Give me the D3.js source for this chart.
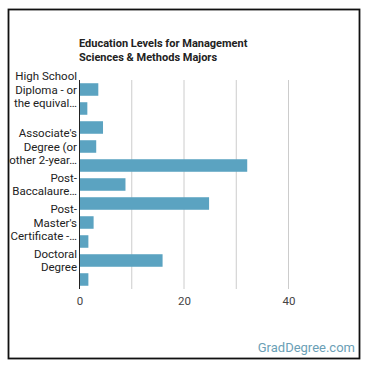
<!DOCTYPE html>
<html>
<head>
<meta charset="utf-8">
<script src="https://cdn.jsdelivr.net/npm/d3@7"></script>
<style>
  body { margin: 0; background: #fff; }
  text { font-family: Roboto, "Noto Sans", sans-serif; }
</style>
</head>
<body>
<div id="vis"></div>
<script>
const FRAME_WIDTH = 370;
const FRAME_HEIGHT = 370;
const MARGINS = {left: 79.5, right: 81.5, top: 80, bottom: 81};

// categories in bar order (top to bottom)
const categories = [
  "High School Diploma - or the equivalent",
  "Post-Secondary Certificate",
  "Some College Courses",
  "Associate's Degree (or other 2-year degree)",
  "Bachelor's Degree",
  "Post-Baccalaureate Certificate",
  "Master's Degree",
  "Post-Master's Certificate",
  "First Professional Degree",
  "Doctoral Degree",
  "Post-Doctoral Training"
];
// percent of majors
const values = [3.6, 1.5, 4.5, 3.2, 32.1, 8.8, 24.8, 2.7, 1.7, 15.9, 1.7];
// the chart only shows some of the (wrapped, truncated) labels
const shownLabels = [
  ["High School", "Diploma - or", "the equival\u2026"],
  null,
  null,
  ["Associate's", "Degree (or", "other 2-year\u2026"],
  null,
  ["Post-", "Baccalaure\u2026"],
  null,
  ["Post-", "Master's", "Certificate -\u2026"],
  null,
  ["Doctoral", "Degree"],
  null
];
const xTicks = [0, 20, 40];
const xGrid = [10, 20, 30, 40];

const svg = d3.select("#vis")
  .append("svg")
    .attr("width", FRAME_WIDTH)
    .attr("height", FRAME_HEIGHT);

// outer frame
svg.append("rect")
    .attr("x", 8.5)
    .attr("y", 9.5)
    .attr("width", 351)
    .attr("height", 349)
    .attr("fill", "#fff")
    .attr("stroke", "#111")
    .attr("stroke-width", 1.8);

const x = d3.scaleLinear()
  .domain([0, 40])
  .range([MARGINS.left, FRAME_WIDTH - MARGINS.right]);

const y = d3.scaleBand()
  .domain(categories)
  .range([MARGINS.top, FRAME_HEIGHT - MARGINS.bottom])
  .paddingInner(0.34)
  .paddingOuter(0.17);

// title
svg.append("text")
    .attr("x", 79)
    .attr("y", 47)
    .attr("font-size", 11)
    .attr("font-weight", "bold")
    .attr("fill", "#222")
  .selectAll("tspan")
  .data(["Education Levels for Management", "Sciences & Methods Majors"])
  .enter().append("tspan")
    .attr("x", 79)
    .attr("dy", (d, i) => i ? 13.5 : 0)
    .text(d => d);

// grid lines
svg.append("g")
  .selectAll("line")
  .data(xGrid)
  .enter().append("line")
    .attr("x1", d => x(d))
    .attr("x2", d => x(d))
    .attr("y1", MARGINS.top)
    .attr("y2", FRAME_HEIGHT - MARGINS.bottom)
    .attr("stroke", "#cccccc")
    .attr("stroke-width", 1);

// bars
svg.append("g")
  .selectAll("rect")
  .data(values)
  .enter().append("rect")
    .attr("x", x(0))
    .attr("y", (d, i) => y(categories[i]))
    .attr("width", d => x(d) - x(0))
    .attr("height", y.bandwidth())
    .attr("fill", "#5ba3c1");

// baseline
svg.append("line")
    .attr("x1", x(0))
    .attr("x2", x(0))
    .attr("y1", MARGINS.top)
    .attr("y2", FRAME_HEIGHT - MARGINS.bottom)
    .attr("stroke", "#222")
    .attr("stroke-width", 1);

// x axis labels
const xAxis = svg.append("g")
    .attr("transform", `translate(0,${FRAME_HEIGHT - MARGINS.bottom})`)
    .call(d3.axisBottom(x).tickValues(xTicks).tickSize(0).tickPadding(8).tickFormat(d3.format("d")));
xAxis.select(".domain").remove();
xAxis.selectAll("text")
    .attr("font-size", 11.5)
    .attr("font-family", "Roboto, sans-serif")
    .attr("fill", "#444");

// category labels
const labels = svg.append("g")
  .selectAll("text")
  .data(shownLabels.map((l, i) => ({lines: l, cat: categories[i]})).filter(d => d.lines))
  .enter().append("text")
    .attr("text-anchor", "end")
    .attr("font-size", 11.5)
    .attr("fill", "#222");

labels.selectAll("tspan")
  .data(d => d.lines.map((t, j) => ({t: t, j: j, n: d.lines.length, c: d.cat})))
  .enter().append("tspan")
    .attr("x", 77)
    .attr("y", d => y(d.c) + y.bandwidth() / 2 + (d.j - (d.n - 1) / 2) * 13.5 + 4)
    .text(d => d.t);

// watermark
svg.append("text")
    .attr("x", 355)
    .attr("y", 352)
    .attr("text-anchor", "end")
    .attr("font-size", 13)
    .attr("fill", "#6b9fb6")
    .text("GradDegree.com");
</script>
</body>
</html>
